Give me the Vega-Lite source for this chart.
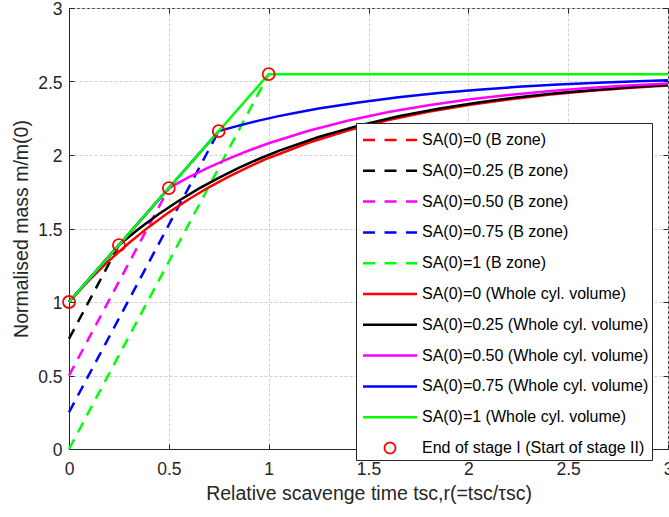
{
  "$schema": "https://vega.github.io/schema/vega-lite/v6.json",
  "width": 599,
  "height": 441,
  "autosize": {"type": "none"},
  "padding": {"left": 69, "top": 8, "right": 1, "bottom": 68},
  "background": "white",
  "config": {
    "font": "Liberation Sans",
    "view": {"stroke": "#262626", "strokeWidth": 1},
    "axis": {
      "domainColor": "#262626",
      "tickColor": "#262626",
      "labelColor": "#262626",
      "titleColor": "#262626",
      "labelFontSize": 17.5,
      "titleFontSize": 19.5,
      "titleFontWeight": "normal",
      "gridColor": "#cfcfcf",
      "gridDash": [3, 2],
      "gridWidth": 1,
      "tickSize": -5,
      "labelFlush": false,
      "format": "~g"
    }
  },
  "data": {
    "values": [
      {"s": "SA(0)=0 (B zone)", "k": "B", "x": 0, "y": 1},
      {"s": "SA(0)=0 (B zone)", "k": "B", "x": 0, "y": 1},
      {"s": "SA(0)=0.25 (B zone)", "k": "B", "x": 0, "y": 0.75},
      {"s": "SA(0)=0.25 (B zone)", "k": "B", "x": 0.25, "y": 1.3875},
      {"s": "SA(0)=0.50 (B zone)", "k": "B", "x": 0, "y": 0.5},
      {"s": "SA(0)=0.50 (B zone)", "k": "B", "x": 0.5, "y": 1.775},
      {"s": "SA(0)=0.75 (B zone)", "k": "B", "x": 0, "y": 0.25},
      {"s": "SA(0)=0.75 (B zone)", "k": "B", "x": 0.75, "y": 2.1625},
      {"s": "SA(0)=1 (B zone)", "k": "B", "x": 0, "y": 0},
      {"s": "SA(0)=1 (B zone)", "k": "B", "x": 1, "y": 2.55},

      {"s": "SA(0)=0 (Whole cyl. volume)", "k": "W", "x": 0, "y": 1},
      {"s": "SA(0)=0 (Whole cyl. volume)", "k": "W", "x": 0.1, "y": 1.1475},
      {"s": "SA(0)=0 (Whole cyl. volume)", "k": "W", "x": 0.2, "y": 1.281},
      {"s": "SA(0)=0 (Whole cyl. volume)", "k": "W", "x": 0.3, "y": 1.4017},
      {"s": "SA(0)=0 (Whole cyl. volume)", "k": "W", "x": 0.4, "y": 1.511},
      {"s": "SA(0)=0 (Whole cyl. volume)", "k": "W", "x": 0.5, "y": 1.6099},
      {"s": "SA(0)=0 (Whole cyl. volume)", "k": "W", "x": 0.6, "y": 1.6993},
      {"s": "SA(0)=0 (Whole cyl. volume)", "k": "W", "x": 0.7, "y": 1.7803},
      {"s": "SA(0)=0 (Whole cyl. volume)", "k": "W", "x": 0.8, "y": 1.8535},
      {"s": "SA(0)=0 (Whole cyl. volume)", "k": "W", "x": 0.9, "y": 1.9198},
      {"s": "SA(0)=0 (Whole cyl. volume)", "k": "W", "x": 1.0, "y": 1.9798},
      {"s": "SA(0)=0 (Whole cyl. volume)", "k": "W", "x": 1.2, "y": 2.0831},
      {"s": "SA(0)=0 (Whole cyl. volume)", "k": "W", "x": 1.4, "y": 2.1678},
      {"s": "SA(0)=0 (Whole cyl. volume)", "k": "W", "x": 1.6, "y": 2.2371},
      {"s": "SA(0)=0 (Whole cyl. volume)", "k": "W", "x": 1.8, "y": 2.2938},
      {"s": "SA(0)=0 (Whole cyl. volume)", "k": "W", "x": 2.0, "y": 2.3402},
      {"s": "SA(0)=0 (Whole cyl. volume)", "k": "W", "x": 2.2, "y": 2.3783},
      {"s": "SA(0)=0 (Whole cyl. volume)", "k": "W", "x": 2.4, "y": 2.4094},
      {"s": "SA(0)=0 (Whole cyl. volume)", "k": "W", "x": 2.6, "y": 2.4349},
      {"s": "SA(0)=0 (Whole cyl. volume)", "k": "W", "x": 2.8, "y": 2.4557},
      {"s": "SA(0)=0 (Whole cyl. volume)", "k": "W", "x": 3.0, "y": 2.4728},

      {"s": "SA(0)=0.25 (Whole cyl. volume)", "k": "W", "x": 0, "y": 1},
      {"s": "SA(0)=0.25 (Whole cyl. volume)", "k": "W", "x": 0.25, "y": 1.3875},
      {"s": "SA(0)=0.25 (Whole cyl. volume)", "k": "W", "x": 0.35, "y": 1.4981},
      {"s": "SA(0)=0.25 (Whole cyl. volume)", "k": "W", "x": 0.45, "y": 1.5982},
      {"s": "SA(0)=0.25 (Whole cyl. volume)", "k": "W", "x": 0.55, "y": 1.6888},
      {"s": "SA(0)=0.25 (Whole cyl. volume)", "k": "W", "x": 0.65, "y": 1.7708},
      {"s": "SA(0)=0.25 (Whole cyl. volume)", "k": "W", "x": 0.75, "y": 1.8449},
      {"s": "SA(0)=0.25 (Whole cyl. volume)", "k": "W", "x": 0.85, "y": 1.912},
      {"s": "SA(0)=0.25 (Whole cyl. volume)", "k": "W", "x": 0.95, "y": 1.9727},
      {"s": "SA(0)=0.25 (Whole cyl. volume)", "k": "W", "x": 1.05, "y": 2.0277},
      {"s": "SA(0)=0.25 (Whole cyl. volume)", "k": "W", "x": 1.25, "y": 2.1223},
      {"s": "SA(0)=0.25 (Whole cyl. volume)", "k": "W", "x": 1.45, "y": 2.1999},
      {"s": "SA(0)=0.25 (Whole cyl. volume)", "k": "W", "x": 1.65, "y": 2.2633},
      {"s": "SA(0)=0.25 (Whole cyl. volume)", "k": "W", "x": 1.85, "y": 2.3153},
      {"s": "SA(0)=0.25 (Whole cyl. volume)", "k": "W", "x": 2.05, "y": 2.3578},
      {"s": "SA(0)=0.25 (Whole cyl. volume)", "k": "W", "x": 2.25, "y": 2.3927},
      {"s": "SA(0)=0.25 (Whole cyl. volume)", "k": "W", "x": 2.45, "y": 2.4212},
      {"s": "SA(0)=0.25 (Whole cyl. volume)", "k": "W", "x": 2.65, "y": 2.4445},
      {"s": "SA(0)=0.25 (Whole cyl. volume)", "k": "W", "x": 2.85, "y": 2.4637},
      {"s": "SA(0)=0.25 (Whole cyl. volume)", "k": "W", "x": 3.0, "y": 2.4757},

      {"s": "SA(0)=0.50 (Whole cyl. volume)", "k": "W", "x": 0, "y": 1},
      {"s": "SA(0)=0.50 (Whole cyl. volume)", "k": "W", "x": 0.5, "y": 1.775},
      {"s": "SA(0)=0.50 (Whole cyl. volume)", "k": "W", "x": 0.6, "y": 1.8488},
      {"s": "SA(0)=0.50 (Whole cyl. volume)", "k": "W", "x": 0.7, "y": 1.9155},
      {"s": "SA(0)=0.50 (Whole cyl. volume)", "k": "W", "x": 0.8, "y": 1.9759},
      {"s": "SA(0)=0.50 (Whole cyl. volume)", "k": "W", "x": 0.9, "y": 2.0305},
      {"s": "SA(0)=0.50 (Whole cyl. volume)", "k": "W", "x": 1.0, "y": 2.0799},
      {"s": "SA(0)=0.50 (Whole cyl. volume)", "k": "W", "x": 1.2, "y": 2.1651},
      {"s": "SA(0)=0.50 (Whole cyl. volume)", "k": "W", "x": 1.4, "y": 2.2349},
      {"s": "SA(0)=0.50 (Whole cyl. volume)", "k": "W", "x": 1.6, "y": 2.292},
      {"s": "SA(0)=0.50 (Whole cyl. volume)", "k": "W", "x": 1.8, "y": 2.3388},
      {"s": "SA(0)=0.50 (Whole cyl. volume)", "k": "W", "x": 2.0, "y": 2.3771},
      {"s": "SA(0)=0.50 (Whole cyl. volume)", "k": "W", "x": 2.2, "y": 2.4084},
      {"s": "SA(0)=0.50 (Whole cyl. volume)", "k": "W", "x": 2.4, "y": 2.4341},
      {"s": "SA(0)=0.50 (Whole cyl. volume)", "k": "W", "x": 2.6, "y": 2.4551},
      {"s": "SA(0)=0.50 (Whole cyl. volume)", "k": "W", "x": 2.8, "y": 2.4723},
      {"s": "SA(0)=0.50 (Whole cyl. volume)", "k": "W", "x": 3.0, "y": 2.4864},

      {"s": "SA(0)=0.75 (Whole cyl. volume)", "k": "W", "x": 0, "y": 1},
      {"s": "SA(0)=0.75 (Whole cyl. volume)", "k": "W", "x": 0.75, "y": 2.1625},
      {"s": "SA(0)=0.75 (Whole cyl. volume)", "k": "W", "x": 0.85, "y": 2.2},
      {"s": "SA(0)=0.75 (Whole cyl. volume)", "k": "W", "x": 0.95, "y": 2.234},
      {"s": "SA(0)=0.75 (Whole cyl. volume)", "k": "W", "x": 1.05, "y": 2.2645},
      {"s": "SA(0)=0.75 (Whole cyl. volume)", "k": "W", "x": 1.15, "y": 2.2915},
      {"s": "SA(0)=0.75 (Whole cyl. volume)", "k": "W", "x": 1.25, "y": 2.316},
      {"s": "SA(0)=0.75 (Whole cyl. volume)", "k": "W", "x": 1.45, "y": 2.3576},
      {"s": "SA(0)=0.75 (Whole cyl. volume)", "k": "W", "x": 1.65, "y": 2.3925},
      {"s": "SA(0)=0.75 (Whole cyl. volume)", "k": "W", "x": 1.85, "y": 2.421},
      {"s": "SA(0)=0.75 (Whole cyl. volume)", "k": "W", "x": 2.05, "y": 2.4444},
      {"s": "SA(0)=0.75 (Whole cyl. volume)", "k": "W", "x": 2.25, "y": 2.4635},
      {"s": "SA(0)=0.75 (Whole cyl. volume)", "k": "W", "x": 2.45, "y": 2.4792},
      {"s": "SA(0)=0.75 (Whole cyl. volume)", "k": "W", "x": 2.65, "y": 2.492},
      {"s": "SA(0)=0.75 (Whole cyl. volume)", "k": "W", "x": 2.85, "y": 2.5025},
      {"s": "SA(0)=0.75 (Whole cyl. volume)", "k": "W", "x": 3.0, "y": 2.5092},

      {"s": "SA(0)=1 (Whole cyl. volume)", "k": "W", "x": 0, "y": 1},
      {"s": "SA(0)=1 (Whole cyl. volume)", "k": "W", "x": 1, "y": 2.55},
      {"s": "SA(0)=1 (Whole cyl. volume)", "k": "W", "x": 3, "y": 2.55},

      {"s": "End of stage I (Start of stage II)", "k": "P", "x": 0, "y": 1},
      {"s": "End of stage I (Start of stage II)", "k": "P", "x": 0.25, "y": 1.3875},
      {"s": "End of stage I (Start of stage II)", "k": "P", "x": 0.5, "y": 1.775},
      {"s": "End of stage I (Start of stage II)", "k": "P", "x": 0.75, "y": 2.1625},
      {"s": "End of stage I (Start of stage II)", "k": "P", "x": 1, "y": 2.55}
    ]
  },
  "layer": [
    {
      "transform": [{"filter": "datum.k === 'B'"}],
      "mark": {"type": "line", "strokeWidth": 2.5, "strokeDash": [11, 8]},
      "encoding": {
        "x": {
          "field": "x", "type": "quantitative",
          "scale": {"domain": [0, 3], "nice": false},
          "axis": {"values": [0, 0.5, 1, 1.5, 2, 2.5, 3], "grid": true, "labelPadding": 16, "title": "Relative scavenge time tsc,r(=tsc/τsc)", "titlePadding": 7}
        },
        "y": {
          "field": "y", "type": "quantitative",
          "scale": {"domain": [0, 3], "nice": false},
          "axis": {"values": [0, 0.5, 1, 1.5, 2, 2.5, 3], "grid": true, "labelPadding": 12, "labelOffset": 1.5, "title": "Normalised mass m/m(0)", "titlePadding": 6}
        },
        "color": {
          "field": "s", "type": "nominal",
          "scale": {
            "domain": ["SA(0)=0 (B zone)", "SA(0)=0.25 (B zone)", "SA(0)=0.50 (B zone)", "SA(0)=0.75 (B zone)", "SA(0)=1 (B zone)",
                       "SA(0)=0 (Whole cyl. volume)", "SA(0)=0.25 (Whole cyl. volume)", "SA(0)=0.50 (Whole cyl. volume)", "SA(0)=0.75 (Whole cyl. volume)", "SA(0)=1 (Whole cyl. volume)",
                       "End of stage I (Start of stage II)"],
            "range": ["#ff0000", "#000000", "#ff00ff", "#0000ff", "#00ff00", "#ff0000", "#000000", "#ff00ff", "#0000ff", "#00ff00", "#ff0000"]
          },
          "legend": {
            "orient": "none",
            "legendX": 287,
            "legendY": 115,
            "title": " ",
            "titleFontSize": 6,
            "titlePadding": 0,
            "symbolType": "stroke",
            "symbolSize": 2916,
            "symbolStrokeWidth": 2.5,
            "labelFontSize": 16,
            "labelColor": "#000000",
            "labelLimit": 400,
            "clipHeight": 16,
            "rowPadding": 14.8,
            "padding": 3,
            "strokeColor": "#262626",
            "fillColor": "#ffffff",
            "cornerRadius": 0,
            "encode": {
              "symbols": {
                "update": {
                  "x": {"value": 31},
                  "shape": {"signal": "datum.value === 'End of stage I (Start of stage II)' ? 'circle' : 'stroke'"},
                  "size": {"signal": "datum.value === 'End of stage I (Start of stage II)' ? 120 : 2916"},
                  "strokeDash": {"signal": "indexof(datum.value, 'B zone') >= 0 ? [12, 9.5] : [1, 0]"},
                  "strokeWidth": {"signal": "datum.value === 'End of stage I (Start of stage II)' ? 1.8 : 2.5"},
                  "fill": {"value": "transparent"},
                  "stroke": {"scale": "color", "field": "value"},
                  "opacity": {"value": 1}
                }
              },
              "labels": {
                "update": {
                  "x": {"value": 63}
                }
              }
            }
          }
        }
      }
    },
    {
      "transform": [{"filter": "datum.k === 'W'"}],
      "mark": {"type": "line", "strokeWidth": 2.5},
      "encoding": {
        "x": {"field": "x", "type": "quantitative", "axis": null},
        "y": {"field": "y", "type": "quantitative", "axis": null},
        "color": {"field": "s", "type": "nominal"}
      }
    },
    {
      "transform": [{"filter": "datum.k === 'P'"}],
      "mark": {"type": "point", "shape": "circle", "filled": false, "size": 144, "strokeWidth": 1.8, "opacity": 1},
      "encoding": {
        "x": {"field": "x", "type": "quantitative", "axis": {"orient": "top", "values": [0, 0.5, 1, 1.5, 2, 2.5, 3], "labels": false, "title": null, "grid": false, "domain": false}},
        "y": {"field": "y", "type": "quantitative", "axis": {"orient": "right", "values": [0, 0.5, 1, 1.5, 2, 2.5, 3], "labels": false, "title": null, "grid": false, "domain": false}},
        "color": {"field": "s", "type": "nominal"}
      }
    }
  ],
  "resolve": {"axis": {"x": "independent", "y": "independent"}}
}
